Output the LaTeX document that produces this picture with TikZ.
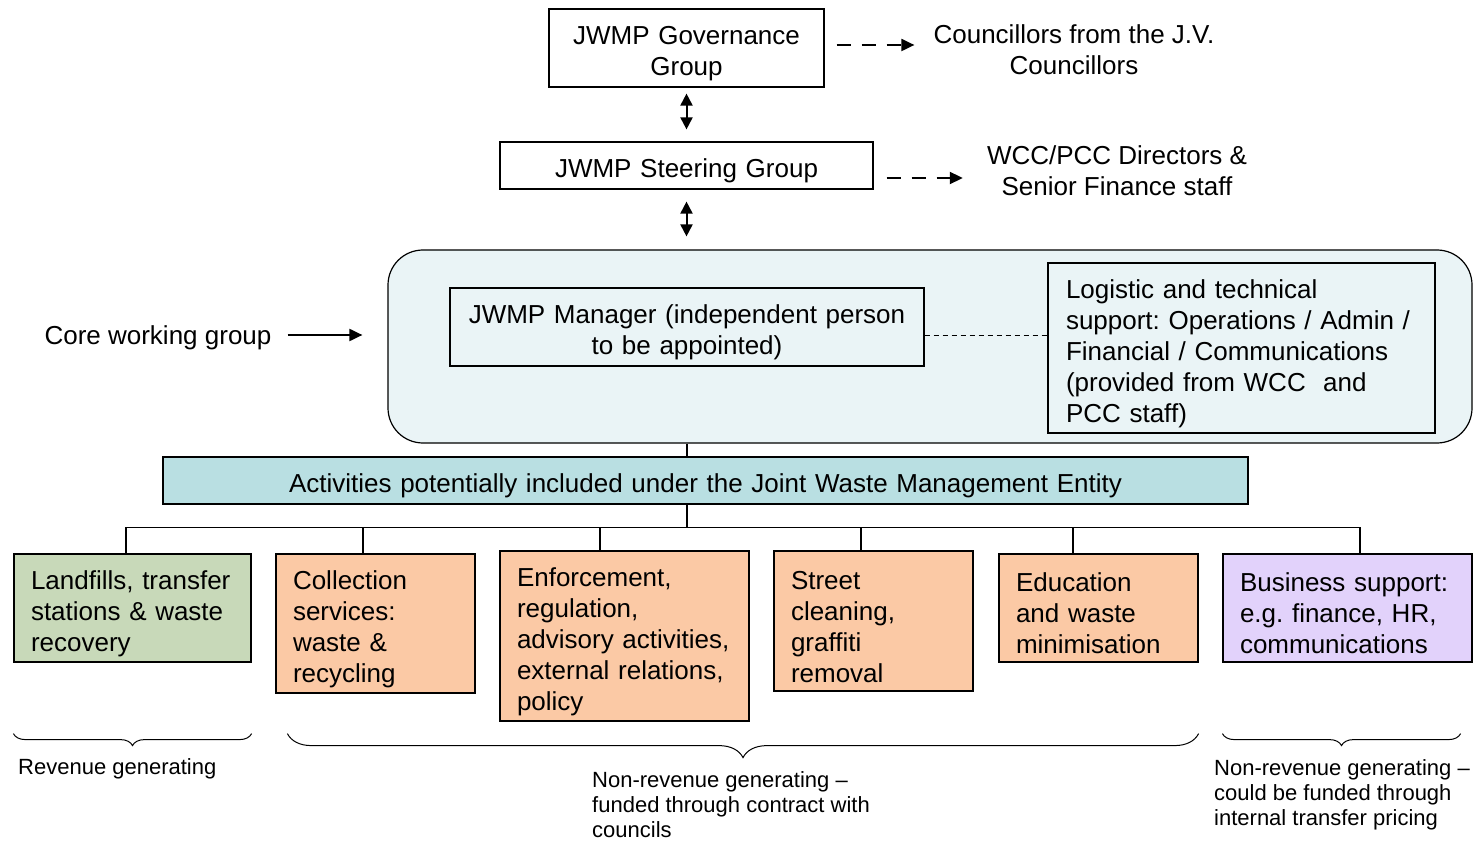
\documentclass[tikz,border=0pt]{standalone}
\usepackage{fontspec}
\setmainfont{Liberation Sans}
\usetikzlibrary{arrows.meta,positioning,calc,decorations.pathreplacing}
\frenchspacing

\definecolor{corefill}{HTML}{EAF4F6}
\definecolor{actfill}{HTML}{B9DFE2}
\definecolor{greenfill}{HTML}{C8D9B9}
\definecolor{orangefill}{HTML}{FBC9A5}
\definecolor{purplefill}{HTML}{E2D2FB}

\begin{document}
\begin{tikzpicture}[x=1pt, y=-1pt,
    every node/.style={font=\fontsize{26}{31}\selectfont},
    group/.style 2 args={rectangle, draw, line width=1.2pt, align=center, inner sep=0pt, text width=#1, minimum height=#2, execute at begin node={\rule{0pt}{30pt}}},
    activity/.style 2 args={rectangle, draw, line width=1.2pt, align=left, inner xsep=17pt, inner ysep=0pt, text width=#1, minimum height=#2, execute at begin node={\rule{0pt}{30pt}}},
    note/.style={align=left, inner sep=0pt, font=\fontsize{22}{25}\selectfont},
    link/.style={draw, line width=1.2pt},
    dbl/.style={draw, line width=2pt, {Triangle[length=12pt,width=12pt]}-{Triangle[length=12pt,width=12pt]}},
    dasharrow/.style={draw, line width=2pt, dash pattern=on 14pt off 11pt, -{Triangle[length=13pt,width=12pt]}},
    solidarrow/.style={draw, line width=2pt, -{Triangle[length=13pt,width=12pt]}},
    dotline/.style={draw, line width=1pt, dash pattern=on 5pt off 4pt},
    brace/.style={draw, line width=1pt, decorate, decoration={brace, amplitude=#1}}]
    \useasboundingbox (0,0) rectangle (1473,842);

    % Row 1: Governance
    \node [group={275}{78}] (gov) at (686.5,48) {JWMP Governance\\Group};
    \node [align=center, inner sep=0pt] (cllr) at (1074,50) {Councillors from the J.V.\\Councillors};

    % Row 2: Steering
    \node [group={373}{47}] (steer) at (686.5,165.5) {JWMP Steering Group};
    \node [align=center, inner sep=0pt] (wcc) at (1117,171) {WCC/PCC Directors \&\\Senior Finance staff};

    % Row 3: Core working group
    \node [rectangle, draw, line width=1.2pt, fill=corefill, rounded corners=35pt, minimum width=1084, minimum height=193] (core) at (930,346.5) {};
    \node [group={474}{78}] (mgr) at (687,327) {JWMP Manager (independent person\\to be appointed)};
    \node [rectangle, draw, line width=1.2pt, align=left, inner xsep=18pt, inner ysep=0pt, text width=351, minimum height=170,
        execute at begin node={\rule{0pt}{30pt}}] (logi) at (1241.5,348)
        {Logistic and technical\\support: Operations / Admin /\\Financial / Communications\\(provided from WCC~ and\\PCC staff)};
    \node [inner sep=0pt] (cwg) at (158,338) {Core working group};

    % Row 4: Activities
    \node [group={1085}{47}, fill=actfill] (act) at (705.5,480.5) {Activities potentially included under the Joint Waste Management Entity};

    % Row 5: Activity boxes
    \node [activity={203}{108}, fill=greenfill] (land) at (132.5,608) {Landfills, transfer\\stations \& waste\\recovery};
    \node [activity={165}{139}, fill=orangefill] (coll) at (375.5,623.5) {Collection\\services:\\waste \&\\recycling};
    \node [activity={215}{170}, fill=orangefill] (enf) at (624.5,636) {Enforcement,\\regulation,\\advisory activities,\\external relations,\\policy};
    \node [activity={165}{140}, fill=orangefill] (street) at (873.5,621) {Street\\cleaning,\\graffiti\\removal};
    \node [activity={165}{108}, fill=orangefill] (edu) at (1098.5,608) {Education\\and waste\\minimisation};
    \node [activity={215}{108}, fill=purplefill] (bus) at (1347.5,608) {Business support:\\e.g. finance, HR,\\communications};

    % Funding notes
    \node [note, anchor=west] (rev) at (18,769) {Revenue generating};
    \node [note, anchor=west] (nonrev) at (592,805) {Non-revenue generating --\\funded through contract with\\councils};
    \node [note, anchor=west] (transfer) at (1214,795) {Non-revenue generating --\\could be funded through\\internal transfer pricing};

    % Connectors
    \draw [dbl, shorten <=6pt, shorten >=12pt] (gov) -- (steer);
    \draw [dbl, shorten <=12pt, shorten >=13pt] (steer.south) -- (steer.south |- core.north);
    \draw [dasharrow] ([shift={(12,-3)}]gov.east) -- ([shift={(-19,-3)}]gov.east -| cllr.west);
    \draw [dasharrow] ([shift={(13,12.5)}]steer.east) -- ([shift={(-24,12.5)}]steer.east -| wcc.west);
    \draw [solidarrow, shorten <=16pt, shorten >=25pt] ([yshift=3pt]cwg.east) -- ([yshift=3pt]cwg.east -| core.west);
    \draw [dotline] ([yshift=-9pt]mgr.east) -- ([yshift=-9pt]mgr.east -| logi.west);
    \draw [link] (core.south -| mgr) -- (act.north -| mgr);
    \coordinate (split) at ($(act.south -| mgr)+(0,23)$);
    \draw [link] (act.south -| mgr) -- (split);
    \foreach \nd/\dx in {land/-6.5, coll/-12.5, enf/-24.5, street/-12.5, edu/-25.5, bus/12.5}
        \draw [link] (split) -| ($(\nd.north)+(\dx,0)$);

    % Braces
    \draw [brace=12pt] ($(land.south east)+(0,71)$) -- ($(land.south west)+(0,71)$);
    \draw [brace=24pt] ($(edu.south east)+(0,71)$) -- ($(coll.south west)+(12,40)$);
    \draw [brace=12pt] ($(bus.south east)+(-12,71)$) -- ($(bus.south west)+(0,71)$);
\end{tikzpicture}
\end{document}
